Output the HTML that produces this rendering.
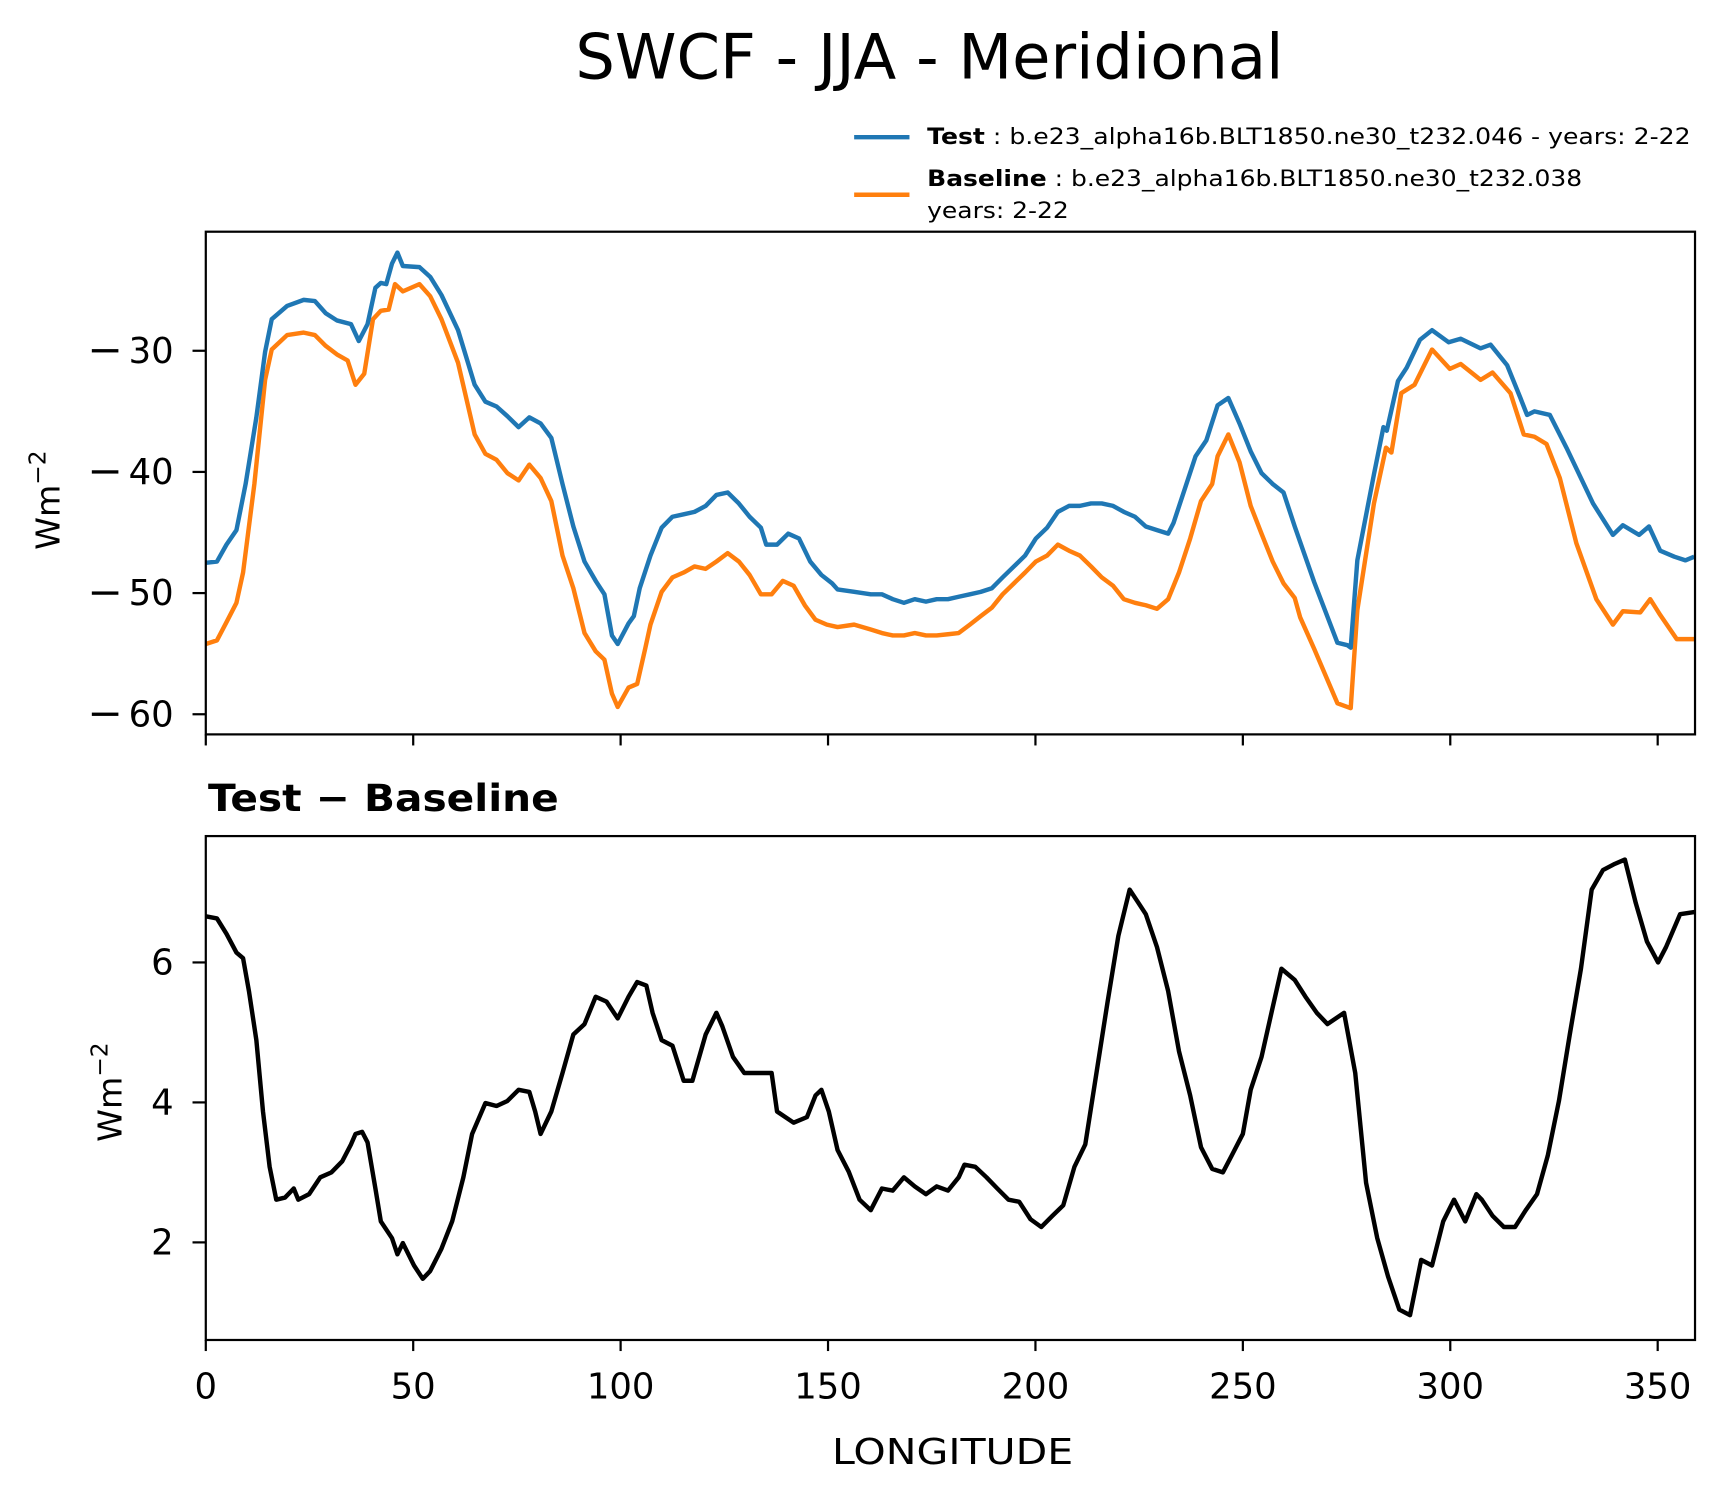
<!DOCTYPE html>
<html><head><meta charset="utf-8"><style>
html,body{margin:0;padding:0;background:#fff;}
svg{display:block;font-family:"DejaVu Sans","Liberation Sans",sans-serif;}
</style></head><body>
<svg id="fig" width="1726" height="1496" viewBox="0 0 1560 1352" preserveAspectRatio="none" xmlns="http://www.w3.org/2000/svg">
<rect width="1560" height="1352" fill="#fff"/>
<text x="520" y="71" font-size="56" textLength="640" lengthAdjust="spacingAndGlyphs">SWCF - JJA - Meridional</text>
<g>
<line x1="772" y1="124" x2="822" y2="124" stroke="#1f77b4" stroke-width="4"/>
<text x="838" y="130" font-size="20" textLength="690" lengthAdjust="spacingAndGlyphs"><tspan font-weight="bold">Test</tspan> : b.e23_alpha16b.BLT1850.ne30_t232.046 - years: 2-22</text>
<line x1="772" y1="176" x2="822" y2="176" stroke="#ff7f0e" stroke-width="4"/>
<text x="838" y="168" font-size="20" textLength="592" lengthAdjust="spacingAndGlyphs"><tspan font-weight="bold">Baseline</tspan> : b.e23_alpha16b.BLT1850.ne30_t232.038</text>
<text x="838" y="197" font-size="20" textLength="128" lengthAdjust="spacingAndGlyphs">years: 2-22</text>
</g>
<defs>
<clipPath id="c1"><rect x="186" y="209.4" width="1346" height="454.3"/></clipPath>
<clipPath id="c2"><rect x="186" y="755.6" width="1346" height="455.4"/></clipPath>
</defs>
<g id="top"></g>
<g id="bot"></g>
<text x="188" y="733" font-size="34" font-weight="bold" textLength="317" lengthAdjust="spacingAndGlyphs">Test − Baseline</text>
<text transform="translate(54,452) rotate(-90)" font-size="30" text-anchor="middle">Wm<tspan dy="-13" font-size="21">−2</tspan></text>
<text transform="translate(110,987) rotate(-90)" font-size="30" text-anchor="middle">Wm<tspan dy="-13" font-size="21">−2</tspan></text>
<text x="752" y="1323" font-size="32" textLength="218" lengthAdjust="spacingAndGlyphs">LONGITUDE</text>
<script>
const testLon=[0,2.7,5,7.4,9.6,12.2,14.3,15.9,19.6,23.6,26.3,28.9,31.6,35,36.9,39,40.9,42.2,43.5,44.9,46.2,47.5,51.5,54.1,56.8,60.8,64.8,67.4,70.1,72.7,75.4,78,80.7,83.3,86,88.6,91.3,94,96.1,97.9,99.3,101.9,103.2,104.6,107.2,109.9,112.5,115.2,117.8,120.5,123.1,125.8,128.5,131.1,133.8,135.1,137.7,140.4,143,145.7,148.4,151,152.3,156.3,160.3,163,165.6,168.3,170.9,173.6,176.2,178.9,181.5,184.2,186.8,189.5,192.1,194.8,197.5,200.1,202.8,205.4,208.1,210.7,213.4,216,218.7,221.3,224,226.6,229.3,232,233.3,235.9,238.6,241.2,243.9,246.5,249.2,251.9,254.5,257.2,259.8,262.5,267.2,272.8,275.2,276,277.6,281.6,283.9,284.7,287.4,289.5,292.7,295.6,299.6,302.5,307.3,309.7,313.7,316.9,318.5,320.3,324,328,334.4,339.2,341.6,345.5,347.9,350.6,354,356.7,358.8];
const testVal=[-47.5,-47.4,-46,-44.8,-41,-35.5,-30.1,-27.4,-26.3,-25.8,-25.9,-26.9,-27.5,-27.8,-29.2,-27.8,-24.8,-24.4,-24.5,-22.8,-21.9,-23,-23.1,-23.9,-25.4,-28.3,-32.8,-34.2,-34.6,-35.4,-36.3,-35.5,-36,-37.2,-41,-44.5,-47.4,-49,-50.1,-53.5,-54.2,-52.5,-51.9,-49.6,-46.9,-44.6,-43.7,-43.5,-43.3,-42.8,-41.9,-41.7,-42.6,-43.7,-44.6,-46,-46,-45.1,-45.5,-47.4,-48.5,-49.2,-49.7,-49.9,-50.1,-50.1,-50.5,-50.8,-50.5,-50.7,-50.5,-50.5,-50.3,-50.1,-49.9,-49.6,-48.7,-47.8,-46.9,-45.5,-44.6,-43.3,-42.8,-42.8,-42.6,-42.6,-42.8,-43.3,-43.7,-44.5,-44.8,-45.1,-44.2,-41.5,-38.7,-37.4,-34.5,-33.9,-36,-38.3,-40.1,-41,-41.7,-44.5,-49.1,-54.1,-54.3,-54.5,-47.3,-40.2,-36.3,-36.6,-32.5,-31.4,-29.1,-28.3,-29.3,-29,-29.8,-29.5,-31.2,-33.9,-35.3,-35,-35.3,-38,-42.6,-45.2,-44.4,-45.2,-44.5,-46.5,-47,-47.3,-47];
const baseLon=[0,2.7,5,7.4,9,11.7,14.3,15.9,19.6,23.6,26.3,28.9,31.6,34.2,36.1,38.2,40.3,42.2,44.1,45.6,47.5,51.5,54.1,56.8,60.8,64.8,67.4,70.1,72.7,75.4,78,80.7,83.3,86,88.6,91.3,94,96.1,97.9,99.3,101.9,104,105.9,107.2,109.9,112.5,115.2,117.8,120.5,123.1,125.8,128.5,131.1,133.8,136.4,139.1,141.7,144.4,147,149.7,152.3,156.3,160.3,163,165.6,168.3,170.9,173.6,176.2,178.9,181.5,184.2,186.8,189.5,192.1,194.8,197.5,200.1,202.8,205.4,208.1,210.7,213.4,216,218.7,221.3,224,226.6,229.3,232,234.6,237.3,239.9,242.6,243.9,246.5,249.2,251.9,254.5,257.2,259.8,262.5,263.8,267.2,272.8,276,277.6,281.6,284.5,285.8,288.2,291.4,295.6,299.9,302.5,307.3,310.2,314.5,317.7,320.3,323.2,326.4,330.4,335.2,339.2,341.6,345.8,348.2,350.6,354.6,358.8];
const baseVal=[-54.2,-53.9,-52.4,-50.8,-48.3,-41,-32.4,-29.9,-28.7,-28.5,-28.7,-29.6,-30.3,-30.8,-32.8,-31.9,-27.4,-26.7,-26.6,-24.5,-25.1,-24.5,-25.5,-27.4,-31,-36.9,-38.5,-39,-40.1,-40.7,-39.4,-40.5,-42.4,-46.9,-49.6,-53.3,-54.8,-55.5,-58.3,-59.4,-57.8,-57.5,-54.6,-52.6,-49.9,-48.7,-48.3,-47.8,-48,-47.4,-46.7,-47.4,-48.5,-50.1,-50.1,-49,-49.4,-51,-52.2,-52.6,-52.8,-52.6,-53,-53.3,-53.5,-53.5,-53.3,-53.5,-53.5,-53.4,-53.3,-52.6,-51.9,-51.2,-50.1,-49.2,-48.3,-47.4,-46.9,-46,-46.5,-46.9,-47.8,-48.7,-49.4,-50.5,-50.8,-51,-51.3,-50.5,-48.3,-45.5,-42.4,-41,-38.7,-36.9,-39.2,-42.8,-45.1,-47.4,-49.2,-50.4,-52,-54.6,-59.1,-59.5,-51.4,-42.6,-38,-38.4,-33.5,-32.8,-29.9,-31.5,-31.1,-32.4,-31.8,-33.5,-36.9,-37.1,-37.7,-40.5,-45.9,-50.5,-52.6,-51.5,-51.6,-50.5,-51.8,-53.8,-53.8];
const diffLon=[0,2.7,5,7.4,9,10.4,12.2,13.8,15.4,17,19.1,21.2,22.3,24.9,27.6,30.3,32.9,35,36.1,37.7,39,40.9,42.2,44.9,46.2,47.5,50.2,52.3,54.1,56.8,59.4,62.1,64.2,67.4,70.1,72.7,75.4,78,79.4,80.7,83.3,86,88.6,91.3,94,96.6,99.3,101.9,104,106.2,107.7,109.9,112.5,115.2,117.3,120.5,123.1,124.5,127.1,129.8,133.8,136.4,137.7,141.7,144.9,147,148.4,150.2,152.3,155,157.6,160.3,163,165.6,168.3,170.9,173.6,176.2,178.9,181.5,182.9,185.5,188.2,190.8,193.5,196.1,198.8,201.4,204.1,206.7,209.4,212,214.7,217.4,220,222.7,224.5,226.6,229.3,232,234.6,237.3,239.9,242.6,245.2,247.3,250,251.9,254.5,257.2,259.3,262.5,265.1,267.8,270.4,274.4,277.1,279.7,282.4,285,287.7,290.3,293,295.6,298.3,300.9,303.6,306.3,307.6,310.2,312.9,315.6,318.2,320.9,323.5,326.2,328.8,331.5,334.1,336.8,339.4,342.1,344.7,347.4,350.1,352,355.4,358.8];
const diffVal=[6.66,6.63,6.41,6.14,6.06,5.59,4.89,3.87,3.08,2.61,2.64,2.77,2.61,2.69,2.93,3.0,3.16,3.4,3.55,3.58,3.43,2.77,2.3,2.06,1.83,1.99,1.67,1.48,1.59,1.91,2.3,2.93,3.55,3.99,3.95,4.02,4.18,4.15,3.87,3.55,3.87,4.42,4.97,5.12,5.51,5.44,5.2,5.51,5.72,5.67,5.28,4.89,4.81,4.31,4.31,4.97,5.28,5.09,4.65,4.42,4.42,4.42,3.87,3.71,3.79,4.1,4.18,3.87,3.32,3.01,2.61,2.46,2.77,2.74,2.93,2.8,2.69,2.8,2.74,2.93,3.11,3.08,2.93,2.77,2.61,2.58,2.33,2.22,2.38,2.53,3.08,3.4,4.42,5.44,6.38,7.04,6.88,6.69,6.22,5.59,4.73,4.1,3.36,3.05,3.0,3.24,3.55,4.18,4.65,5.36,5.91,5.75,5.51,5.28,5.12,5.28,4.42,2.85,2.06,1.51,1.04,0.96,1.75,1.67,2.3,2.61,2.3,2.69,2.61,2.38,2.22,2.22,2.46,2.69,3.24,4.02,4.97,5.91,7.04,7.32,7.4,7.47,6.85,6.3,6.0,6.22,6.69,6.72];
const xTicks=[0,50,100,150,200,250,300,350];
const topTicks=[-30,-40,-50,-60];
const botTicks=[6,4,2];

const NS='http://www.w3.org/2000/svg';
const L=186,R=1532,XMIN=0,XMAX=359;
function X(v){return L+(v-XMIN)/(XMAX-XMIN)*(R-L);}
function Yt(v){return 317+(-30-v)*10.95;}
function Yb(v){return 869.8+(6-v)*63.25;}
function mk(p,tag,at){const e=document.createElementNS(NS,tag);for(const k in at)e.setAttribute(k,at[k]);p.appendChild(e);return e;}
function panel(g,top,bot,ys,ticks,Y,clip,showLabels){
  ys.forEach(s=>{
    const d=s.lon.map((x,i)=>(i?'L':'M')+X(x).toFixed(1)+','+Y(s.val[i]).toFixed(1)).join('');
    const p=mk(g,'path',{d:d,fill:'none',stroke:s.c,'stroke-width':4,'stroke-linejoin':'round','clip-path':'url(#'+clip+')'});
    
    
  });
  const fr=mk(g,'rect',{x:L,y:top,width:R-L,height:bot-top,fill:'none',stroke:'#000','stroke-width':2});
  
  
  xTicks.forEach(t=>{
    const tk=mk(g,'line',{x1:X(t),x2:X(t),y1:bot,y2:bot+10,stroke:'#000','stroke-width':2});
    
    
    if(showLabels){
      const tl=mk(g,'text',{x:X(t),y:bot+53,'font-size':32,'text-anchor':'middle'});
      tl.textContent=t;
      
      
    }
  });
  ticks.forEach(t=>{
    const tk=mk(g,'line',{x1:L-12,x2:L,y1:Y(t),y2:Y(t),stroke:'#000','stroke-width':2});
    
    
    const tl=mk(g,'text',{x:157,y:Y(t)+11,'font-size':32,'text-anchor':'end'});
    tl.textContent=String(Math.abs(t));
    
    
    if(t<0){
      const m=mk(g,'rect',{x:83,y:Y(t)-1.5,width:24,height:3,fill:'#000'});
      
      
    }
  });
}
panel(document.getElementById('top'),209.4,663.7,[
  {lon:baseLon,val:baseVal,c:'#ff7f0e',n:'baseline-line'},
  {lon:testLon,val:testVal,c:'#1f77b4',n:'test-line'}],topTicks,Yt,'c1',false);
panel(document.getElementById('bot'),755.6,1211,[
  {lon:diffLon,val:diffVal,c:'#000',n:'difference-line'}],botTicks,Yb,'c2',true);
</script>
</svg>
</body></html>
